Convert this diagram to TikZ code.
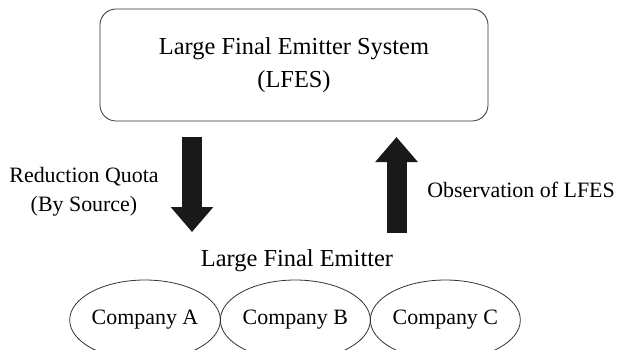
\documentclass[tikz,border=0pt]{standalone}
\usepackage{fontspec}
\setmainfont{Liberation Serif}
\usepackage{xcolor}
\colorlet{colorBorder}{black!80}
\colorlet{colorArrow}{black!90}
\usetikzlibrary{arrows.meta, positioning, shapes.geometric}
\tikzset{system/.style={draw=colorBorder, line width=0.8bp, rounded corners=16bp, minimum width=388bp, minimum height=112bp, align=center, font=\fontsize{24.5}{33}\selectfont}}
\tikzset{company/.style={ellipse, draw=colorBorder, line width=0.8bp, minimum width=150bp, minimum height=80bp, inner sep=0pt, outer sep=0pt, font=\fontsize{22}{26}\selectfont}}
\tikzset{side text/.style={align=center, font=\fontsize{22}{29}\selectfont}}

\begin{document}
\begin{tikzpicture}[x=1bp, y=-1bp, bigarrow/.style={colorArrow, line width=20bp, -{Triangle[width=41bp, length=25bp]}}]
\useasboundingbox (0,0) rectangle (619,349);
\node[system] (lfes) at (294,65) {Large Final Emitter System\\(LFES)};
\node[font=\fontsize{24.5}{30}\selectfont] (lfe) at (297,261) {Large Final Emitter};
\node[company] (ca) at (145,320) {Company A};
\node[company, right=0bp of ca] (cb) {Company B};
\node[company, right=0bp of cb] (cc) {Company C};
\coordinate (quotaTop) at (192,137);
\coordinate (quotaTip) at (192,232);
\coordinate (obsBottom) at (396.5,233);
\coordinate (obsTip) at (396.5,137);
\draw[bigarrow] (quotaTop) -- (quotaTip);
\draw[bigarrow] (obsBottom) -- (obsTip);
\node[side text] (quota) at (84,192) {Reduction Quota\\(By Source)};
\node[side text] (obs) at (521,190) {Observation of LFES};
\end{tikzpicture}
\end{document}
